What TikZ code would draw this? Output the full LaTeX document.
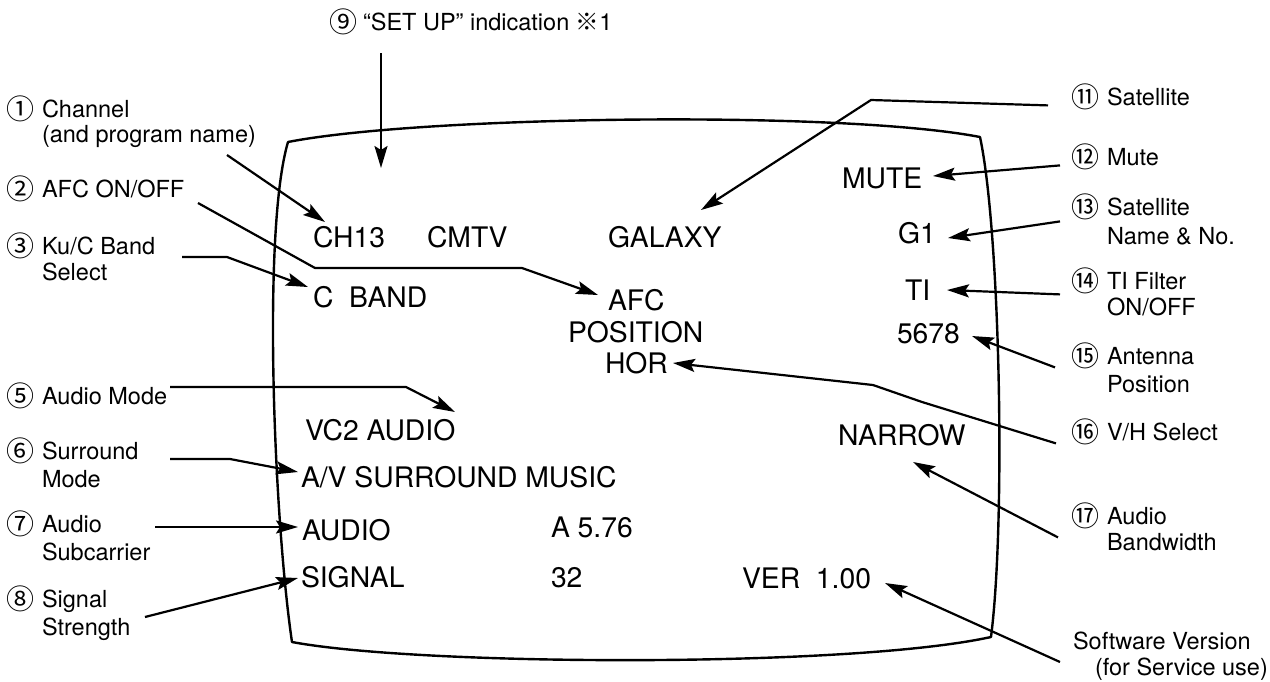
\documentclass[tikz,border=0pt]{standalone}
\usepackage{fontspec}
\setmainfont{TeX Gyre Heros}
\newfontfamily\cjk{Noto Sans CJK JP}
\usetikzlibrary{arrows.meta}
\begin{document}
\begin{tikzpicture}[x=0.5pt,y=-0.5pt,
  scr/.style={inner sep=0pt,outer sep=0pt,anchor=base west,font=\fontsize{14.15}{17}\selectfont},
  lab/.style={inner sep=0pt,outer sep=0pt,anchor=base west,font=\fontsize{11.75}{14}\selectfont},
  num/.style={inner sep=0pt,outer sep=0pt,anchor=base west,yshift=-1.2pt,font=\fontsize{14}{16}\selectfont\cjk},
  con/.style={line width=1.1pt,line join=round,-{Stealth[length=11pt,width=6.5pt,inset=2pt]}},
  screen/.style={line width=1.2pt,line join=round}]
\useasboundingbox (0,0) rectangle (1270,681);

% screen outline
\draw[screen] (288,142) .. controls (420,116) and (840,110) .. (980,137)
  .. controls (1000,230) and (1006,520) .. (991,637)
  .. controls (850,668) and (420,666) .. (292,642)
  .. controls (274,520) and (262,230) .. cycle;

% screen texts
\node[scr] (mute) at (842,188) {MUTE};
\node[scr] (ch13) at (313,247) {CH13};
\node[scr] (cmtv) at (427,247) {CMTV};
\node[scr] (galaxy) at (608,247) {GALAXY};
\node[scr] (g1) at (898,243) {G1};
\node[scr] (cband) at (313,307) {C\ \ BAND};
\node[scr] (afc) at (608,310) {AFC};
\node[scr] (ti) at (905,300) {TI};
\node[scr] (position) at (568,342) {POSITION};
\node[scr] (n5678) at (897,343) {5678};
\node[scr] (hor) at (605,373) {HOR};
\node[scr] (vc2) at (305,440) {VC2 AUDIO};
\node[scr] (narrow) at (838,445) {NARROW};
\node[scr] (avs) at (301,487) {A/V SURROUND MUSIC};
\node[scr] (audio) at (302,540) {AUDIO};
\node[scr] (a576) at (551,537) {A 5.76};
\node[scr] (signal) at (301,587) {SIGNAL};
\node[scr] (n32) at (551,587) {32};
\node[scr] (ver) at (742,588) {VER\ \ 1.00};

% top label
\node[num] (n9) at (329,30) {⑨};
\node[lab] (l9) at (363,30) {“SET UP” indication {\cjk ※}1};

% left labels
\node[num] (n1) at (6,117) {①};
\node[lab] (l1) at (42,117) {Channel};
\node[lab] (l1b) at (42,142) {(and program name)};
\node[num] (n2) at (6,197) {②};
\node[lab] (l2) at (42,197) {AFC ON/OFF};
\node[num] (n3) at (6,254) {③};
\node[lab] (l3) at (42,254) {Ku/C Band};
\node[lab] (l3b) at (42,280) {Select};
\node[num] (n5) at (6,404) {⑤};
\node[lab] (l5) at (42,404) {Audio Mode};
\node[num] (n6) at (6,459) {⑥};
\node[lab] (l6) at (42,459) {Surround};
\node[lab] (l6b) at (42,487) {Mode};
\node[num] (n7) at (6,532) {⑦};
\node[lab] (l7) at (42,532) {Audio};
\node[lab] (l7b) at (42,560) {Subcarrier};
\node[num] (n8) at (6,607) {⑧};
\node[lab] (l8) at (42,607) {Signal};
\node[lab] (l8b) at (42,635) {Strength};

% right labels
\node[num] (n11) at (1071,105) {⑪};
\node[lab] (l11) at (1107,105) {Satellite};
\node[num] (n12) at (1071,165) {⑫};
\node[lab] (l12) at (1107,165) {Mute};
\node[num] (n13) at (1071,215) {⑬};
\node[lab] (l13) at (1107,215) {Satellite};
\node[lab] (l13b) at (1107,244) {Name \& No.};
\node[num] (n14) at (1071,289) {⑭};
\node[lab] (l14) at (1107,289) {TI Filter};
\node[lab] (l14b) at (1107,315) {ON/OFF};
\node[num] (n15) at (1071,364) {⑮};
\node[lab] (l15) at (1107,364) {Antenna};
\node[lab] (l15b) at (1107,392) {Position};
\node[num] (n16) at (1071,440) {⑯};
\node[lab] (l16) at (1107,440) {V/H Select};
\node[num] (n17) at (1071,524) {⑰};
\node[lab] (l17) at (1107,524) {Audio};
\node[lab] (l17b) at (1107,550) {Bandwidth};
\node[lab] (sw) at (1073,649) {Software Version};
\node[lab] (swb) at (1095,675) {(for Service use)};

\coordinate (setuptip) at (381,168);

% connectors, left
\draw[con] ([shift={(185,13)}]l1b.base west) -- ([shift={(12,-25)}]ch13.base west);
\draw[con] ([shift={(156,6)}]l2.base west) -- (315,268) -- (522,268) -- ([shift={(-10,-15)}]afc.base west);
\draw[con] ([shift={(140,3)}]l3.base west) -- (227,257) -- ([shift={(-5,-20)}]cband.base west);
\draw[con] ([shift={(128,-17)}]l5.base west) -- (406,387) -- ([shift={(150,-28)}]vc2.base west);
\draw[con] ([shift={(128,0)}]l6.base west) -- (230,459) -- ([shift={(-3,-15)}]avs.base west);
\draw[con] ([shift={(113,-5)}]l7.base west) -- ([shift={(-4,-13)}]audio.base west);
\draw[con] ([shift={(103,-18)}]l8b.base west) -- ([shift={(-3,-9)}]signal.base west);
\draw[con] ([shift={(18,23)}]l9.base west) -- (setuptip);

% connectors, right
\draw[con] ([shift={(-23,-2)}]n11.base west) -- (871,100) -- ([shift={(93,-37)}]galaxy.base west);
\draw[con] ([shift={(-11,-2)}]n12.base west) -- ([shift={(91,-12)}]mute.base west);
\draw[con] ([shift={(-11,4)}]n13.base west) -- ([shift={(50,-5)}]g1.base west);
\draw[con] ([shift={(-11,3)}]n14.base west) -- ([shift={(42,-10)}]ti.base west);
\draw[con] ([shift={(-16,1)}]n15.base west) -- ([shift={(75,-7)}]n5678.base west);
\draw[con] ([shift={(-15,1)}]n16.base west) -- (922,402) -- (873,385) -- ([shift={(68,-10)}]hor.base west);
\draw[con] ([shift={(-13,11)}]n17.base west) -- ([shift={(75,17)}]narrow.base west);
\draw[con] ([shift={(-13,13)}]sw.base west) -- ([shift={(143,-5)}]ver.base west);
\end{tikzpicture}
\end{document}
